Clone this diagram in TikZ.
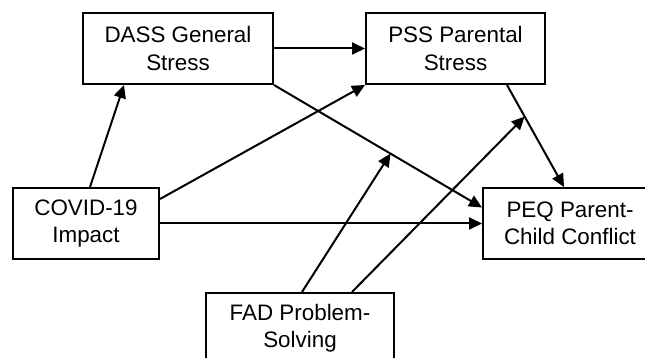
\documentclass[tikz,border=0pt]{standalone}
\usepackage{fontspec}
\setmainfont{Liberation Sans}
\usetikzlibrary{arrows.meta,calc}
\begin{document}
\begin{tikzpicture}[x=1pt,y=-1pt,
  varbox/.style={draw=black,line width=2pt,rectangle,inner sep=0pt,align=center,
    font=\fontsize{22.4}{27.3}\selectfont,minimum height=71pt},
  conn/.style={line width=2pt,-{Triangle[length=13pt,width=12pt]}}]
\useasboundingbox (0,0) rectangle (645,358);
\clip (0,0) rectangle (645,358);
\node[varbox,minimum width=190pt] (dass) at (178,48.5) {DASS General\\Stress};
\node[varbox,minimum width=179pt] (pss) at (455.5,48.5) {PSS Parental\\Stress};
\node[varbox,minimum width=146pt] (covid) at (86,223.5) {COVID-19\\Impact};
\node[varbox,minimum width=174pt] (peq) at (570,223.5) {PEQ Parent-\\Child Conflict};
\node[varbox,minimum width=188pt] (fad) at (300,328.5) {FAD Problem-\\Solving};
\coordinate (covidtop) at ([xshift=4pt]covid.north);
\coordinate (dassbot) at ([xshift=-54pt]dass.south);
\coordinate (covidr1) at ([yshift=24.5pt]covid.east);
\coordinate (peqleft) at ([yshift=16pt]peq.west);
\coordinate (pssbot) at ([xshift=51.5pt]pss.south);
\coordinate (peqtop) at ([xshift=-6pt]peq.north);
\coordinate (fadtopa) at ([xshift=2pt]fad.north);
\coordinate (fadtopb) at ([xshift=52pt]fad.north);
\coordinate (moda) at ($(dass.south east)!0.56!(peqleft)$);
\coordinate (modb) at ($(pssbot)!0.31!(peqtop)$);
\draw[conn] (covidtop) -- (dassbot);
\draw[conn] (covidr1) -- (pss.south west);
\draw[conn] (dass.east) -- (pss.west);
\draw[conn] (dass.south east) -- (peqleft);
\draw[conn] (covid.east) -- (peq.west);
\draw[conn] (pssbot) -- (peqtop);
\draw[conn] (fadtopa) -- (moda);
\draw[conn] (fadtopb) -- (modb);
\end{tikzpicture}
\end{document}
